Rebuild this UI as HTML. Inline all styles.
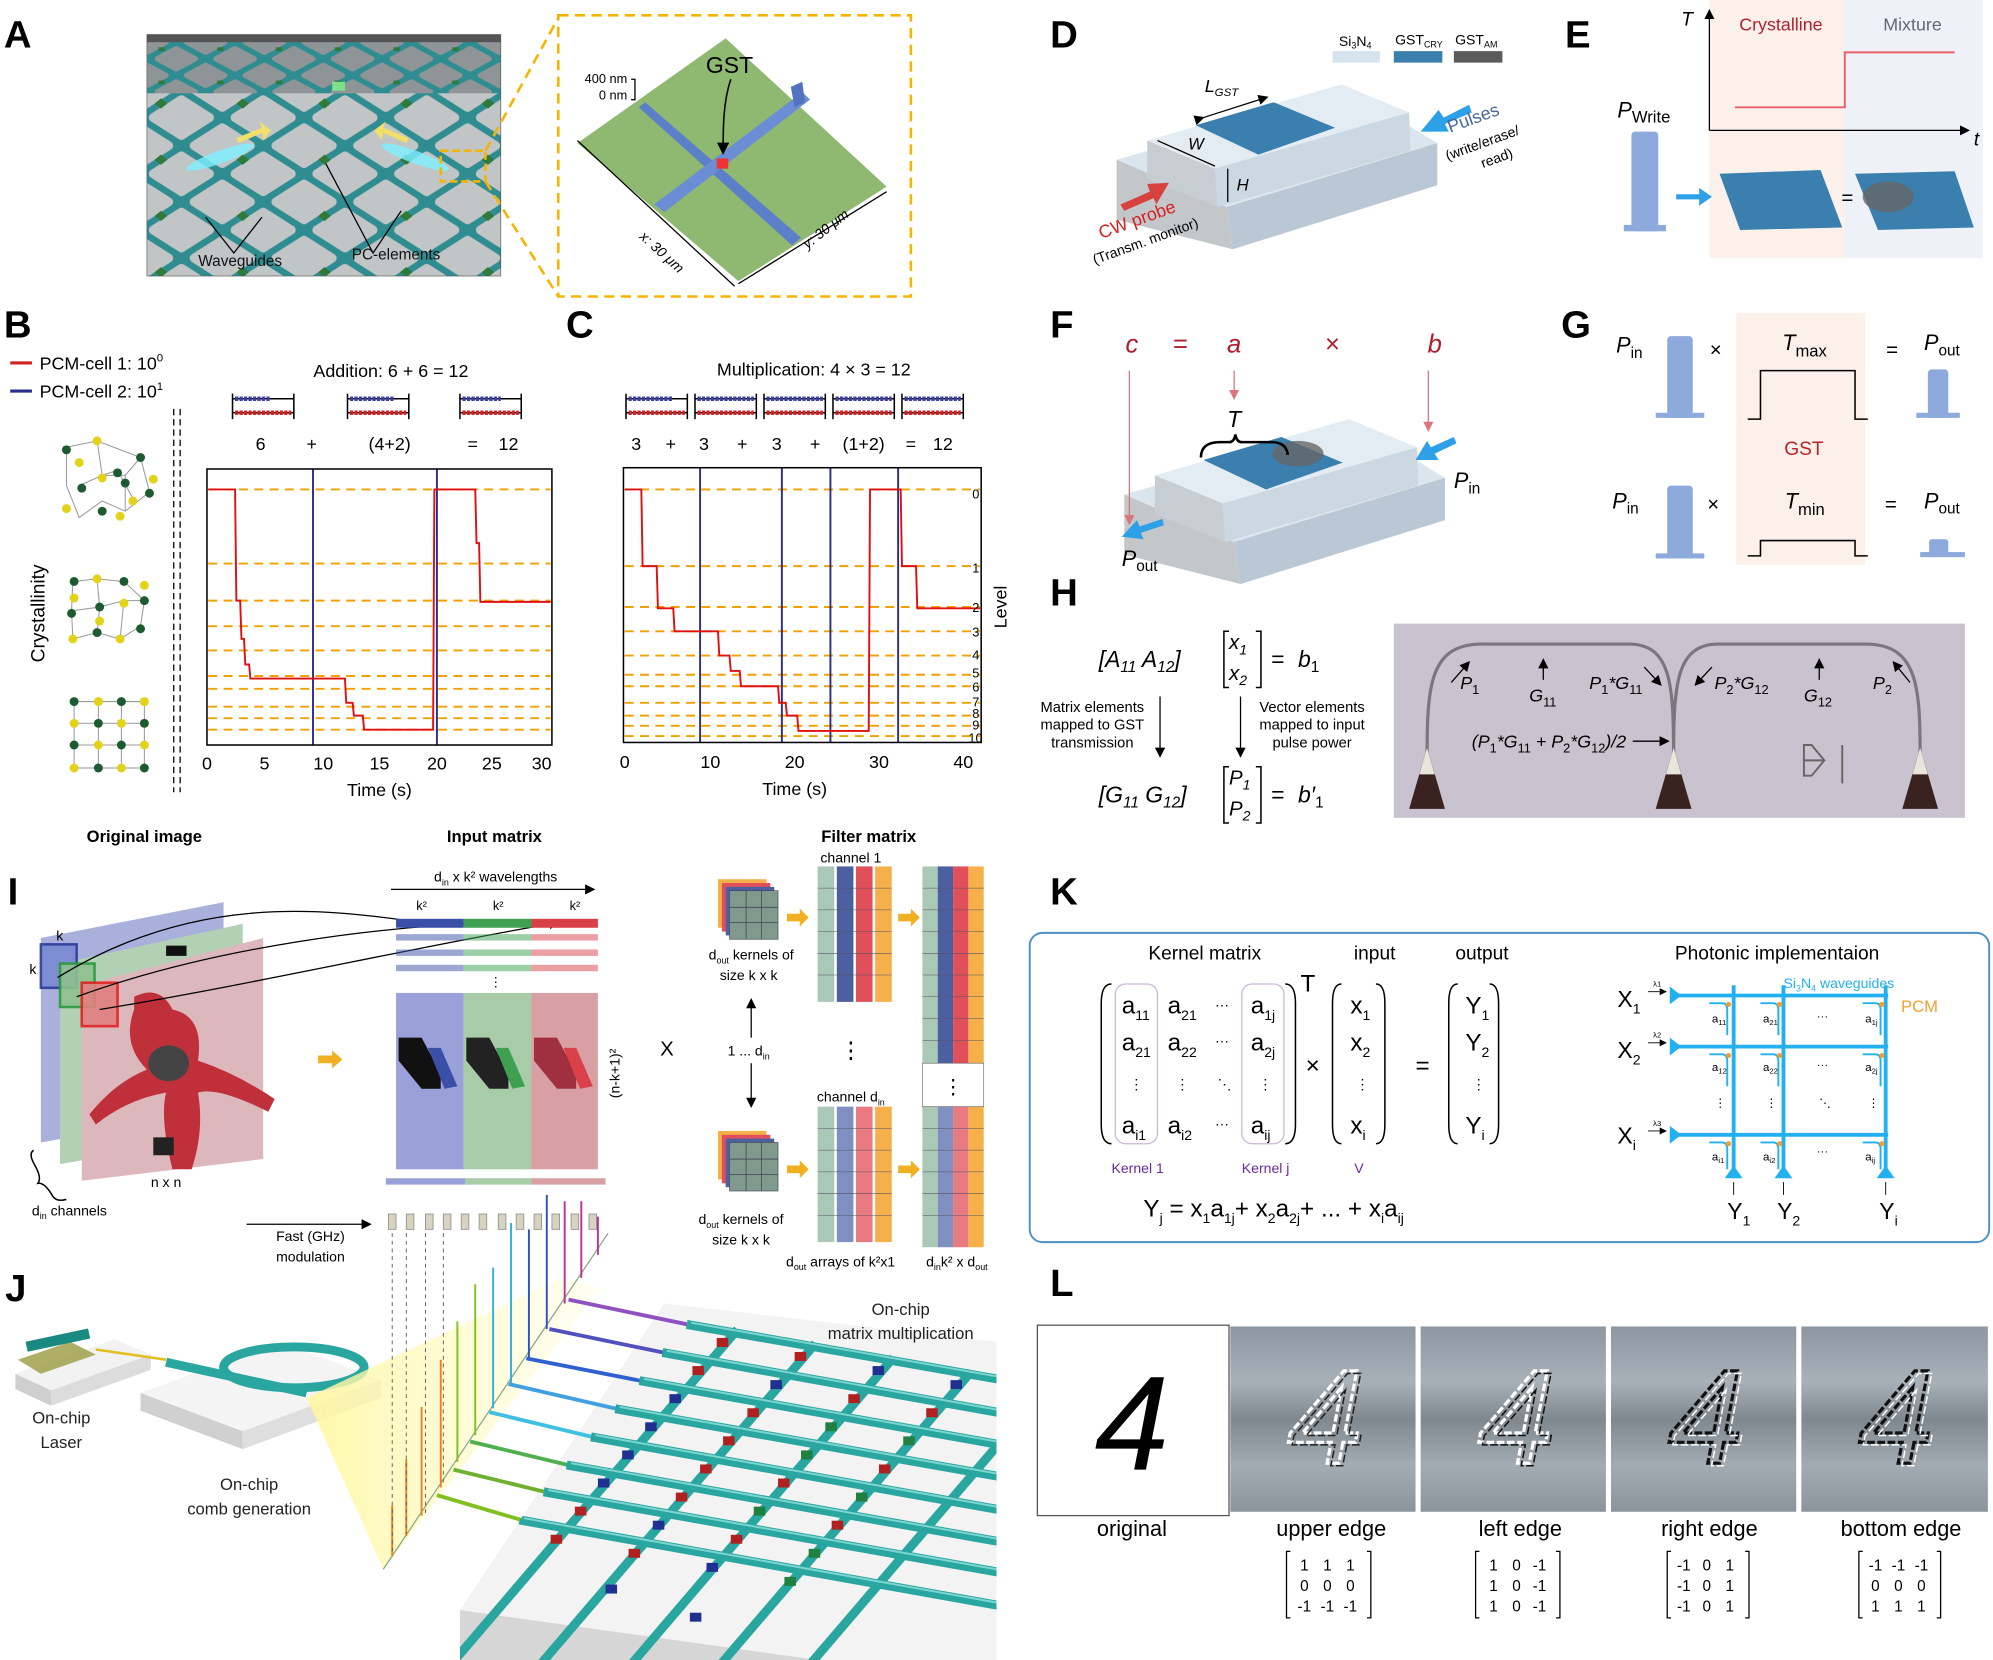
<!DOCTYPE html>
<html><head><meta charset="utf-8"><style>
html,body{margin:0;padding:0;background:#fff}
svg{display:block}
text{font-family:"Liberation Sans",sans-serif}
.lbl{font-weight:bold;font-size:30px}
.s{font-size:14px}
.m{font-size:12px}
.it{font-style:italic}
.ser{font-family:"Liberation Serif",serif}
</style></head><body>
<svg width="1993" height="1660" viewBox="0 0 1560 1299" preserveAspectRatio="none" xmlns="http://www.w3.org/2000/svg">
<defs>
<pattern id="cells" width="64" height="44" patternUnits="userSpaceOnUse" patternTransform="translate(110,70)">
<rect width="64" height="44" fill="#2f8d92"/>
<g fill="#c2c5c6" stroke="#c2c5c6" stroke-width="7" stroke-linejoin="round">
<polygon points="32,8 54,22 32,36 10,22"/>
<polygon points="0,-14 22,0 0,14 -22,0"/><polygon points="64,-14 86,0 64,14 42,0"/>
<polygon points="0,30 22,44 0,58 -22,44"/><polygon points="64,30 86,44 64,58 42,44"/>
</g>
<polygon points="16,7 21,11 16,15 11,11" fill="#2d7a3a"/>
</pattern>
<pattern id="cellsS" width="46" height="26" patternUnits="userSpaceOnUse" patternTransform="translate(115,33)">
<rect width="46" height="26" fill="#2f8d92"/>
<g fill="#8f9597" stroke="#8f9597" stroke-width="4" stroke-linejoin="round">
<polygon points="23,5 38,13 23,21 8,13"/>
<polygon points="0,-8 15,0 0,8 -15,0"/><polygon points="46,-8 61,0 46,8 31,0"/>
<polygon points="0,18 15,26 0,34 -15,26"/><polygon points="46,18 61,26 46,34 31,26"/>
</g>
<rect x="9" y="4" width="5" height="3" fill="#2d7a3a"/>
</pattern>
<clipPath id="cpA"><rect x="115" y="27" width="277" height="189"/></clipPath>
<clipPath id="cpJ"><polygon points="520,1020 780,1050 780,1299 360,1299 360,1260"/></clipPath>
<marker id="ar" markerWidth="8" markerHeight="8" refX="7" refY="4" orient="auto"><path d="M0,0 L8,4 L0,8 z" fill="#000"/></marker>
<marker id="arr" markerWidth="8" markerHeight="8" refX="7" refY="4" orient="auto"><path d="M0,0 L8,4 L0,8 z" fill="#d9757d"/></marker>
<linearGradient id="yel" x1="0" y1="0" x2="1" y2="0"><stop offset="0" stop-color="#fff7a0" stop-opacity="0.9"/><stop offset="1" stop-color="#fffbd0" stop-opacity="0.3"/></linearGradient>
<linearGradient id="gry" x1="0" y1="0" x2="0" y2="1"><stop offset="0" stop-color="#8e979f"/><stop offset="0.3" stop-color="#a8b0b8"/><stop offset="0.5" stop-color="#7f888f"/><stop offset="0.75" stop-color="#a3abb3"/><stop offset="1" stop-color="#8b949b"/></linearGradient>
</defs>

<!-- ============ A ============ -->
<text x="3" y="37" class="lbl">A</text>
<g clip-path="url(#cpA)">
<rect x="115" y="27" width="277" height="189" fill="url(#cells)"/>
<rect x="115" y="27" width="277" height="46" fill="url(#cellsS)"/>
<rect x="115" y="27" width="277" height="6" fill="#555"/>
<ellipse cx="172" cy="123" rx="28" ry="5" fill="#7df0ff" opacity="0.8" transform="rotate(-20 172 123)"/>
<ellipse cx="325" cy="123" rx="28" ry="5" fill="#7df0ff" opacity="0.8" transform="rotate(20 325 123)"/>
<polygon points="185,108 205,100 203,95 212,102 206,110 205,104 187,112" fill="#f0e06a"/>
<polygon points="320,108 300,100 302,95 293,102 299,110 300,104 318,112" fill="#f0e06a"/>
<rect x="260" y="64" width="10" height="7" fill="#7fe08a"/>
</g>
<rect x="115" y="27" width="277" height="189" fill="none" stroke="#555" stroke-width="0.5"/>
<polyline points="161,170 183,198 205,170" fill="none" stroke="#000" stroke-width="1"/>
<polyline points="255,128 292,198 314,165" fill="none" stroke="#000" stroke-width="1"/>
<text x="188" y="208" class="m" text-anchor="middle" fill="#111">Waveguides</text>
<text x="310" y="203" class="m" text-anchor="middle" fill="#111">PC-elements</text>
<rect x="345" y="118" width="35" height="24" fill="none" stroke="#f5b400" stroke-width="2" stroke-dasharray="6,3"/>
<line x1="380" y1="118" x2="437" y2="14" stroke="#f5b400" stroke-width="2" stroke-dasharray="8,5"/>
<line x1="380" y1="142" x2="437" y2="232" stroke="#f5b400" stroke-width="2" stroke-dasharray="8,5"/>
<rect x="437" y="12" width="276" height="220" fill="none" stroke="#f5b400" stroke-width="2" stroke-dasharray="8,5"/>
<polygon points="568,30 694,146 578,220 452,112" fill="#8fb871"/>
<polygon points="500,84 505,80 627,186 620,192" fill="#5b7fc9"/>
<polygon points="512,160 628,72 634,78 520,166" fill="#6a8dd6"/>
<polygon points="619,68 628,64 630,80 622,84" fill="#5274c0"/>
<rect x="561" y="124" width="9" height="8" fill="#e33"/>
<path d="M572,62 C566,80 566,100 566,120" fill="none" stroke="#000" stroke-width="1.2" marker-end="url(#ar)"/>
<text x="571" y="57" font-size="18" text-anchor="middle">GST</text>
<text x="491" y="65" font-size="10" text-anchor="end">400 nm</text>
<text x="491" y="78" font-size="10" text-anchor="end">0 nm</text>
<path d="M494,62 l3,0 l0,16 l-3,0" fill="none" stroke="#000"/>
<line x1="452" y1="110" x2="575" y2="224" stroke="#000" stroke-width="1"/>
<line x1="578" y1="222" x2="694" y2="150" stroke="#000" stroke-width="1"/>
<text x="500" y="186" font-size="11" class="it" transform="rotate(42 500 186)">x: 30 μm</text>
<text x="632" y="195" font-size="11" class="it" transform="rotate(-38 632 195)">y: 30 μm</text>

<!-- ============ B ============ -->
<text x="3" y="264" class="lbl">B</text>
<line x1="8" y1="284" x2="25" y2="284" stroke="#d42020" stroke-width="2.5"/>
<text x="31" y="289" font-size="14">PCM-cell 1: 10<tspan dy="-6" font-size="9">0</tspan></text>
<line x1="8" y1="306" x2="25" y2="306" stroke="#2a2d8c" stroke-width="2.5"/>
<text x="31" y="311" font-size="14">PCM-cell 2: 10<tspan dy="-6" font-size="9">1</tspan></text>
<line x1="136" y1="320" x2="136" y2="620" stroke="#000" stroke-dasharray="5,3"/>
<line x1="141" y1="320" x2="141" y2="620" stroke="#000" stroke-dasharray="5,3"/>
<text x="35" y="480" font-size="15" text-anchor="middle" transform="rotate(-90 35 480)">Crystallinity</text>
<g stroke="#999" stroke-width="0.8" fill="none">
<path d="M52,350 L76,345 L110,358 L117,385 L98,400 L80,392 L62,405 L52,380 Z M76,345 L80,372 L62,380 M80,372 L98,372 L110,358 M98,372 L98,400 M80,372 L92,368 L104,390"/>
<path d="M57,455 L76,453 L97,455 L113,470 L110,490 L94,500 L76,495 L57,500 L56,478 Z M76,453 L78,475 L56,478 M78,475 L97,470 L113,470 M78,475 L76,495 M97,470 L94,500"/>
<path d="M58,549 H113 M58,566 H113 M58,583 H113 M58,601 H113 M58,549 V601 M77,549 V601 M95,549 V601 M113,549 V601"/>
</g>
<g fill="#1c5b2f">
<circle cx="52" cy="352" r="3.5"/><circle cx="110" cy="358" r="3.5"/><circle cx="117" cy="386" r="3.5"/><circle cx="92" cy="370" r="3.5"/><circle cx="64" cy="382" r="3.5"/><circle cx="80" cy="400" r="3.5"/><circle cx="98" cy="378" r="3.5"/>
<circle cx="58" cy="455" r="3.5"/><circle cx="97" cy="455" r="3.5"/><circle cx="78" cy="475" r="3.5"/><circle cx="113" cy="470" r="3.5"/><circle cx="56" cy="480" r="3.5"/><circle cx="76" cy="495" r="3.5"/><circle cx="110" cy="492" r="3.5"/>
<circle cx="58" cy="549" r="3.5"/><circle cx="95" cy="549" r="3.5"/><circle cx="77" cy="566" r="3.5"/><circle cx="113" cy="566" r="3.5"/><circle cx="58" cy="583" r="3.5"/><circle cx="95" cy="583" r="3.5"/><circle cx="77" cy="601" r="3.5"/><circle cx="113" cy="601" r="3.5"/>
</g>
<g fill="#e2d21a">
<circle cx="76" cy="345" r="3.5"/><circle cx="62" cy="362" r="3.5"/><circle cx="80" cy="374" r="3.5"/><circle cx="104" cy="392" r="3.5"/><circle cx="52" cy="398" r="3.5"/><circle cx="94" cy="404" r="3.5"/><circle cx="120" cy="375" r="3.5"/>
<circle cx="76" cy="453" r="3.5"/><circle cx="113" cy="458" r="3.5"/><circle cx="58" cy="468" r="3.5"/><circle cx="97" cy="472" r="3.5"/><circle cx="78" cy="486" r="3.5"/><circle cx="57" cy="500" r="3.5"/><circle cx="94" cy="500" r="3.5"/>
<circle cx="77" cy="549" r="3.5"/><circle cx="113" cy="549" r="3.5"/><circle cx="58" cy="566" r="3.5"/><circle cx="95" cy="566" r="3.5"/><circle cx="77" cy="583" r="3.5"/><circle cx="113" cy="583" r="3.5"/><circle cx="58" cy="601" r="3.5"/><circle cx="95" cy="601" r="3.5"/>
</g>
<text x="306" y="295" font-size="14" text-anchor="middle">Addition: 6 + 6 = 12</text>
<g stroke="#000" stroke-width="1.2" fill="none">
<path d="M182,308 V328 M230,308 V328 M182,312 H230 M182,323 H230"/>
<path d="M272,308 V328 M320,308 V328 M272,312 H320 M272,323 H320"/>
<path d="M360,308 V328 M408,308 V328 M360,312 H408 M360,323 H408"/>
<path d="M490,308 V328 M538,308 V328 M490,312 H538 M490,323 H538"/>
<path d="M544,308 V328 M592,308 V328 M544,312 H592 M544,323 H592"/>
<path d="M598,308 V328 M646,308 V328 M598,312 H646 M598,323 H646"/>
<path d="M652,308 V328 M700,308 V328 M652,312 H700 M652,323 H700"/>
<path d="M706,308 V328 M754,308 V328 M706,312 H754 M706,323 H754"/>
</g>
<g stroke-width="3.5" stroke-dasharray="2.5,1">
<line x1="184" y1="312" x2="212" y2="312" stroke="#3a3fa0"/><line x1="184" y1="323" x2="228" y2="323" stroke="#d42020"/>
<line x1="274" y1="312" x2="308" y2="312" stroke="#3a3fa0"/><line x1="274" y1="323" x2="318" y2="323" stroke="#d42020"/>
<line x1="362" y1="312" x2="392" y2="312" stroke="#3a3fa0"/><line x1="362" y1="323" x2="406" y2="323" stroke="#d42020"/>
<line x1="492" y1="312" x2="526" y2="312" stroke="#3a3fa0"/><line x1="492" y1="323" x2="536" y2="323" stroke="#d42020"/>
<line x1="546" y1="312" x2="590" y2="312" stroke="#3a3fa0"/><line x1="546" y1="323" x2="590" y2="323" stroke="#d42020"/>
<line x1="600" y1="312" x2="644" y2="312" stroke="#3a3fa0"/><line x1="600" y1="323" x2="644" y2="323" stroke="#d42020"/>
<line x1="654" y1="312" x2="698" y2="312" stroke="#3a3fa0"/><line x1="654" y1="323" x2="698" y2="323" stroke="#d42020"/>
<line x1="708" y1="312" x2="752" y2="312" stroke="#3a3fa0"/><line x1="708" y1="323" x2="752" y2="323" stroke="#d42020"/>
</g>
<g font-size="14" text-anchor="middle">
<text x="204" y="352">6</text><text x="244" y="352">+</text><text x="305" y="352">(4+2)</text><text x="370" y="352">=</text><text x="398" y="352">12</text>
<text x="498" y="352">3</text><text x="525" y="352">+</text><text x="551" y="352">3</text><text x="581" y="352">+</text><text x="608" y="352">3</text><text x="638" y="352">+</text><text x="676" y="352">(1+2)</text><text x="713" y="352">=</text><text x="738" y="352">12</text>
</g>
<g stroke="#f0a000" stroke-width="1.5" stroke-dasharray="7,5">
<line x1="163" y1="383" x2="431" y2="383"/><line x1="163" y1="441" x2="431" y2="441"/><line x1="163" y1="470" x2="431" y2="470"/><line x1="163" y1="490" x2="431" y2="490"/><line x1="163" y1="509" x2="431" y2="509"/><line x1="163" y1="529" x2="431" y2="529"/><line x1="163" y1="539" x2="431" y2="539"/><line x1="163" y1="553" x2="431" y2="553"/><line x1="163" y1="562" x2="431" y2="562"/><line x1="163" y1="571" x2="431" y2="571"/>
</g>
<line x1="245" y1="367" x2="245" y2="583" stroke="#2a2d8c" stroke-width="1.5"/>
<line x1="342" y1="367" x2="342" y2="583" stroke="#2a2d8c" stroke-width="1.5"/>
<polyline points="163,383 184,383 185,470 188,470 189,500 191,500 192,520 195,520 196,531 270,531 271,550 276,550 277,560 284,560 285,571 339,571 340,383 372,383 373,425 375,425 376,471 431,471" fill="none" stroke="#e01010" stroke-width="1.5"/>
<rect x="162" y="367" width="270" height="216" fill="none" stroke="#000" stroke-width="1.2"/>
<g font-size="14" text-anchor="middle">
<text x="162" y="602">0</text><text x="207" y="602">5</text><text x="253" y="602">10</text><text x="297" y="602">15</text><text x="342" y="602">20</text><text x="385" y="602">25</text><text x="424" y="602">30</text>
<text x="297" y="623">Time (s)</text>
</g>
<!-- C -->
<text x="443" y="264" class="lbl">C</text>
<text x="637" y="294" font-size="14" text-anchor="middle">Multiplication: 4 × 3 = 12</text>
<g stroke="#f0a000" stroke-width="1.5" stroke-dasharray="7,5">
<line x1="489" y1="383" x2="767" y2="383"/><line x1="489" y1="443" x2="767" y2="443"/><line x1="489" y1="475" x2="767" y2="475"/><line x1="489" y1="494" x2="767" y2="494"/><line x1="489" y1="513" x2="767" y2="513"/><line x1="489" y1="528" x2="767" y2="528"/><line x1="489" y1="537" x2="767" y2="537"/><line x1="489" y1="550" x2="767" y2="550"/><line x1="489" y1="560" x2="767" y2="560"/><line x1="489" y1="568" x2="767" y2="568"/><line x1="489" y1="576" x2="767" y2="576"/>
</g>
<g stroke="#2a2d8c" stroke-width="1.5"><line x1="548" y1="366" x2="548" y2="581"/><line x1="612" y1="366" x2="612" y2="581"/><line x1="650" y1="366" x2="650" y2="581"/><line x1="703" y1="366" x2="703" y2="581"/></g>
<polyline points="489,383 502,383 503,443 514,443 515,476 527,476 528,494 562,494 563,513 571,513 572,525 579,525 580,537 609,537 610,550 615,550 616,560 624,560 625,572 680,572 681,383 705,383 706,443 717,443 718,476 767,476" fill="none" stroke="#e01010" stroke-width="1.5"/>
<rect x="488" y="366" width="280" height="215" fill="none" stroke="#000" stroke-width="1.2"/>
<g font-size="10">
<text x="761" y="390">0</text><text x="761" y="448">1</text><text x="761" y="479">2</text><text x="761" y="498">3</text><text x="761" y="516">4</text><text x="761" y="530">5</text><text x="761" y="541">6</text><text x="761" y="553">7</text><text x="761" y="562">8</text><text x="761" y="571">9</text><text x="758" y="581">10</text>
</g>
<text x="788" y="475" font-size="14" text-anchor="middle" transform="rotate(-90 788 475)">Level</text>
<g font-size="14" text-anchor="middle">
<text x="489" y="601">0</text><text x="556" y="601">10</text><text x="622" y="601">20</text><text x="688" y="601">30</text><text x="754" y="601">40</text>
<text x="622" y="622">Time (s)</text>
</g>

<!-- ============ D ============ -->
<text x="822" y="37" class="lbl">D</text>
<rect x="1043" y="40" width="37" height="9" fill="#d5e3ee"/><rect x="1091" y="40" width="38" height="9" fill="#3a7fad"/><rect x="1138" y="40" width="38" height="9" fill="#5b5b5b"/>
<text x="1048" y="36" font-size="11">Si<tspan font-size="7" dy="2">3</tspan><tspan dy="-2">N</tspan><tspan font-size="7" dy="2">4</tspan></text>
<text x="1092" y="35" font-size="11">GST<tspan font-size="7" dy="2">CRY</tspan></text>
<text x="1139" y="35" font-size="11">GST<tspan font-size="7" dy="2">AM</tspan></text>
<polygon points="874,125 1060,72 1125,112 960,162" fill="#dbe5ee"/>
<polygon points="874,125 960,162 965,195 874,172" fill="#c4c7ca"/>
<polygon points="960,162 1125,112 1125,145 965,195" fill="#b9c8d4"/>
<polygon points="898,110 1050,66 1103,88 951,132" fill="#e3ecf3"/>
<polygon points="898,110 951,132 953,162 898,140" fill="#c6cdd3"/>
<polygon points="951,132 1103,88 1104,118 953,162" fill="#cbd8e2"/>
<polygon points="936,98 997,80 1045,100 985,121" fill="#3a7fad"/>
<line x1="942" y1="92" x2="992" y2="76" stroke="#000" marker-end="url(#ar)" marker-start="url(#ar)"/>
<text x="943" y="72" font-size="14" class="it">L<tspan font-size="9" dy="3">GST</tspan></text>
<line x1="906" y1="110" x2="951" y2="130" stroke="#000"/>
<text x="930" y="117" font-size="13" class="it">W</text>
<line x1="961" y1="132" x2="961" y2="158" stroke="#000"/>
<text x="968" y="149" font-size="13" class="it">H</text>
<polygon points="1150,82 1130,92 1126,86 1112,103 1134,103 1131,97 1152,88" fill="#2ea0e8"/>
<polygon points="877,160 900,150 898,144 915,143 905,160 903,155 880,165" fill="#d94040"/>
<g fill="#46699a" font-size="14" transform="rotate(-20 1140 100)"><text x="1134" y="102">Pulses</text></g>
<g font-size="11" transform="rotate(-20 1135 125)"><text x="1133" y="125">(write/erase/</text><text x="1157" y="140">read)</text></g>
<text x="862" y="187" font-size="14" fill="#d42020" transform="rotate(-20 862 187)">CW probe</text>
<text x="857" y="207" font-size="11" transform="rotate(-20 857 207)">(Transm. monitor)</text>

<!-- ============ E ============ -->
<rect x="1338" y="0" width="106" height="202" fill="#fbf1ea"/>
<rect x="1444" y="0" width="108" height="202" fill="#eef1f7"/>
<text x="1225" y="37" class="lbl">E</text>
<line x1="1338" y1="102" x2="1338" y2="8" stroke="#000" marker-end="url(#ar)"/>
<line x1="1338" y1="102" x2="1541" y2="102" stroke="#000" marker-end="url(#ar)"/>
<text x="1316" y="20" font-size="15" class="it">T</text>
<text x="1545" y="114" font-size="15" class="it">t</text>
<text x="1394" y="24" font-size="14" fill="#b22030" text-anchor="middle">Crystalline</text>
<text x="1497" y="24" font-size="14" fill="#667" text-anchor="middle">Mixture</text>
<polyline points="1358,84 1444,84 1444,41 1530,41" fill="none" stroke="#e8606a" stroke-width="1.5"/>
<text x="1266" y="92" font-size="17" class="it">P<tspan font-size="13" font-style="normal" dy="4">Write</tspan></text>
<rect x="1277" y="103" width="21" height="78" rx="3" fill="#8ea9dc"/>
<rect x="1271" y="176" width="33" height="5" fill="#8ea9dc"/>
<polygon points="1312,152 1330,152 1330,147 1340,154 1330,161 1330,156 1312,156" fill="#2ea0e8"/>
<polygon points="1346,136 1425,133 1442,178 1362,180" fill="#3a7fad"/>
<text x="1446" y="160" font-size="16" text-anchor="middle">=</text>
<polygon points="1452,136 1530,134 1545,178 1470,180" fill="#3a7fad"/>
<ellipse cx="1478" cy="154" rx="20" ry="12" fill="#666" opacity="0.8"/>

<!-- ============ F ============ -->
<text x="822" y="264" class="lbl">F</text>
<g font-size="20" fill="#b01c2c" class="it" text-anchor="middle">
<text x="886" y="276">c</text><text x="924" y="276" font-style="normal">=</text><text x="966" y="276">a</text><text x="1043" y="276" font-style="normal">×</text><text x="1123" y="276">b</text></g>
<g transform="translate(6,262)">
<polygon points="874,125 1060,72 1125,112 960,162" fill="#dbe5ee"/>
<polygon points="874,125 960,162 965,195 874,172" fill="#c4c7ca"/>
<polygon points="960,162 1125,112 1125,145 965,195" fill="#b9c8d4"/>
<polygon points="898,110 1050,66 1103,88 951,132" fill="#e3ecf3"/>
<polygon points="898,110 951,132 953,162 898,140" fill="#c6cdd3"/>
<polygon points="951,132 1103,88 1104,118 953,162" fill="#cbd8e2"/>
<polygon points="936,98 997,80 1045,100 985,121" fill="#3a7fad"/>
<ellipse cx="1010" cy="93" rx="20" ry="10" fill="#666" opacity="0.8"/>
</g>
<line x1="884" y1="290" x2="884" y2="410" stroke="#d9757d" marker-end="url(#arr)"/>
<line x1="966" y1="290" x2="966" y2="312" stroke="#d9757d" marker-end="url(#arr)"/>
<line x1="1118" y1="290" x2="1118" y2="337" stroke="#d9757d" marker-end="url(#arr)"/>
<text x="966" y="334" font-size="18" class="it" text-anchor="middle">T</text>
<path d="M940,358 Q940,346 955,346 L962,346 Q966,346 967,340 Q968,346 972,346 L995,346 Q1007,346 1008,356" fill="none" stroke="#000" stroke-width="2"/>
<polygon points="1138,342 1120,350 1117,345 1108,360 1126,360 1123,355 1140,347" fill="#2ea0e8"/>
<polygon points="910,406 892,412 890,407 878,420 895,422 893,417 911,411" fill="#2ea0e8"/>
<text x="1138" y="382" font-size="17" class="it">P<tspan font-size="12" font-style="normal" dy="4">in</tspan></text>
<text x="878" y="443" font-size="17" class="it">P<tspan font-size="12" font-style="normal" dy="4">out</tspan></text>

<!-- ============ G ============ -->
<text x="1222" y="264" class="lbl">G</text>
<rect x="1359" y="245" width="101" height="197" fill="#fbf1ea"/>
<g font-size="17" class="it">
<text x="1265" y="276">P<tspan font-size="12" font-style="normal" dy="4">in</tspan></text>
<text x="1395" y="274">T<tspan font-size="13" font-style="normal" dy="5">max</tspan></text>
<text x="1506" y="274">P<tspan font-size="12" font-style="normal" dy="4">out</tspan></text>
<text x="1262" y="398">P<tspan font-size="12" font-style="normal" dy="4">in</tspan></text>
<text x="1397" y="398">T<tspan font-size="13" font-style="normal" dy="5">min</tspan></text>
<text x="1506" y="398">P<tspan font-size="12" font-style="normal" dy="4">out</tspan></text>
</g>
<g font-size="16" text-anchor="middle"><text x="1343" y="279">×</text><text x="1481" y="279">=</text><text x="1341" y="400">×</text><text x="1480" y="400">=</text></g>
<text x="1412" y="356" font-size="15" fill="#c0202a" text-anchor="middle">GST</text>
<g fill="#8ea9dc">
<rect x="1305" y="263" width="20" height="64" rx="3"/><rect x="1296" y="323" width="38" height="4"/>
<rect x="1509" y="289" width="16" height="38" rx="3"/><rect x="1500" y="323" width="34" height="4"/>
<rect x="1305" y="380" width="20" height="57" rx="3"/><rect x="1296" y="433" width="38" height="4"/>
<rect x="1510" y="422" width="15" height="12" rx="2"/><rect x="1503" y="432" width="35" height="4"/>
</g>
<polyline points="1368,328 1378,328 1378,290 1452,290 1452,328 1462,328" fill="none" stroke="#000" stroke-width="1.2"/>
<polyline points="1368,435 1378,435 1378,423 1452,423 1452,435 1462,435" fill="none" stroke="#000" stroke-width="1.2"/>

<!-- ============ H ============ -->
<text x="822" y="474" class="lbl">H</text>
<g class="ser it" font-size="18">
<text x="860" y="522">[A<tspan font-size="12" dy="4">11</tspan><tspan dy="-4">   A</tspan><tspan font-size="12" dy="4">12</tspan><tspan dy="-4">]</tspan></text>
<text x="962" y="508" font-size="16">x<tspan font-size="11" dy="4">1</tspan></text>
<text x="962" y="532" font-size="16">x<tspan font-size="11" dy="4">2</tspan></text>
<text x="995" y="522" font-style="normal">= </text><text x="1016" y="522">b<tspan font-size="12" dy="4" font-style="normal">1</tspan></text>
<text x="860" y="628">[G<tspan font-size="12" dy="4">11</tspan><tspan dy="-4">   G</tspan><tspan font-size="12" dy="4">12</tspan><tspan dy="-4">]</tspan></text>
<text x="962" y="614" font-size="16">P<tspan font-size="11" dy="4">1</tspan></text>
<text x="962" y="638" font-size="16">P<tspan font-size="11" dy="4">2</tspan></text>
<text x="995" y="628" font-style="normal">= </text><text x="1016" y="628">b′<tspan font-size="12" dy="4" font-style="normal">1</tspan></text>
</g>
<path d="M962,494 h-4 v44 h4 M983,494 h4 v44 h-4 M962,600 h-4 v44 h4 M983,600 h4 v44 h-4" fill="none" stroke="#000" stroke-width="1.2"/>
<g font-size="11.5" text-anchor="middle">
<text x="855" y="557">Matrix elements</text><text x="855" y="571">mapped to GST</text><text x="855" y="585">transmission</text>
<text x="1027" y="557">Vector elements</text><text x="1027" y="571">mapped to input</text><text x="1027" y="585">pulse power</text>
</g>
<line x1="908" y1="545" x2="908" y2="592" stroke="#000" marker-end="url(#ar)"/>
<line x1="971" y1="545" x2="971" y2="592" stroke="#000" marker-end="url(#ar)"/>
<rect x="1091" y="488" width="447" height="152" fill="#c8c3cf"/>
<path d="M1117,600 C1117,540 1117,504 1160,504 L1275,504 C1310,504 1310,540 1310,600 C1310,540 1310,504 1345,504 L1460,504 C1503,504 1503,540 1503,600" fill="none" stroke="#7a767e" stroke-width="2.5"/>
<g fill="#3a2220"><polygon points="1117,585 1103,633 1131,633"/><polygon points="1310,585 1296,633 1324,633"/><polygon points="1503,585 1489,633 1517,633"/></g>
<g fill="#e8e6da"><polygon points="1117,585 1111,606 1123,606"/><polygon points="1310,585 1304,606 1316,606"/><polygon points="1503,585 1497,606 1509,606"/></g>
<path d="M1412,583 h6 l10,12 l-10,12 h-6 z M1412,595 h16 M1442,583 v30" fill="none" stroke="#666" stroke-width="1.5"/>
<g font-size="14" class="it">
<text x="1143" y="539">P<tspan font-size="10" font-style="normal" dy="4">1</tspan></text>
<text x="1197" y="549">G<tspan font-size="10" font-style="normal" dy="4">11</tspan></text>
<text x="1244" y="539">P<tspan font-size="10" font-style="normal" dy="4">1</tspan><tspan dy="-4">*G</tspan><tspan font-size="10" font-style="normal" dy="4">11</tspan></text>
<text x="1342" y="539">P<tspan font-size="10" font-style="normal" dy="4">2</tspan><tspan dy="-4">*G</tspan><tspan font-size="10" font-style="normal" dy="4">12</tspan></text>
<text x="1412" y="549">G<tspan font-size="10" font-style="normal" dy="4">12</tspan></text>
<text x="1466" y="539">P<tspan font-size="10" font-style="normal" dy="4">2</tspan></text>
<text x="1152" y="585">(P<tspan font-size="10" font-style="normal" dy="4">1</tspan><tspan dy="-4">*G</tspan><tspan font-size="10" font-style="normal" dy="4">11</tspan><tspan dy="-4"> + P</tspan><tspan font-size="10" font-style="normal" dy="4">2</tspan><tspan dy="-4">*G</tspan><tspan font-size="10" font-style="normal" dy="4">12</tspan><tspan dy="-4">)/2</tspan></text>
</g>
<g stroke="#000" stroke-width="1"><line x1="1136" y1="534" x2="1150" y2="518" marker-end="url(#ar)"/><line x1="1208" y1="532" x2="1208" y2="516" marker-end="url(#ar)"/><line x1="1287" y1="522" x2="1300" y2="536" marker-end="url(#ar)"/><line x1="1340" y1="522" x2="1327" y2="536" marker-end="url(#ar)"/><line x1="1424" y1="532" x2="1424" y2="516" marker-end="url(#ar)"/><line x1="1495" y1="534" x2="1482" y2="518" marker-end="url(#ar)"/><line x1="1278" y1="580" x2="1306" y2="580" marker-end="url(#ar)"/></g>

<!-- ============ I ============ -->
<text x="6" y="708" class="lbl">I</text>
<g font-size="13" font-weight="bold" text-anchor="middle"><text x="113" y="659">Original image</text><text x="387" y="659">Input matrix</text><text x="680" y="659">Filter matrix</text></g>
<polygon points="32,734 175,706 175,868 32,894" fill="#aab0dc"/>
<polygon points="47,754 190,723 190,886 47,911" fill="#b2d0b4"/>
<polygon points="64,771 206,734 206,907 64,924" fill="#dcb8bc"/>
<path d="M105,780 q20,-10 30,10 q25,5 20,40 q30,10 60,30 l-5,10 q-40,-20 -55,-15 q5,30 -5,60 l-15,0 q-10,-40 -5,-60 q-30,5 -55,25 l-5,-8 q20,-25 45,-35 q-20,-20 -10,-47z" fill="#c0303a"/>
<ellipse cx="132" cy="832" rx="16" ry="14" fill="#444"/>
<rect x="130" y="740" width="16" height="8" fill="#111"/>
<rect x="120" y="890" width="16" height="14" fill="#222"/>
<rect x="32" y="739" width="28" height="34" fill="#7a8ad0" stroke="#2a3a9a" stroke-width="2" opacity="0.9"/>
<rect x="47" y="754" width="27" height="34" fill="#8fc090" stroke="#2a9a3a" stroke-width="2" opacity="0.9"/>
<rect x="64" y="769" width="28" height="34" fill="#e08080" stroke="#e02020" stroke-width="2" opacity="0.9"/>
<text x="44" y="736" font-size="11">k</text><text x="23" y="762" font-size="11">k</text>
<path d="M45,765 C150,700 250,710 330,722 M60,780 C170,740 300,725 385,722 M78,790 C200,770 330,740 437,722" fill="none" stroke="#000" stroke-width="1" marker-end="url(#ar)"/>
<path d="M37,900 q-5,0 -5,10 q0,12 -5,14 q5,2 5,14 q0,6 8,8" fill="none" stroke="#000" stroke-width="1.2" transform="rotate(-30 32 920)"/>
<text x="25" y="951" font-size="11">d<tspan font-size="7" dy="3">in</tspan><tspan dy="-3"> channels</tspan></text>
<text x="130" y="929" font-size="11" text-anchor="middle">n x n</text>
<text x="388" y="690" font-size="11" text-anchor="middle">d<tspan font-size="7" dy="3">in</tspan><tspan dy="-3"> x k² wavelengths</tspan></text>
<line x1="306" y1="696" x2="465" y2="696" stroke="#000" marker-end="url(#ar)"/>
<g font-size="10" text-anchor="middle"><text x="330" y="712">k²</text><text x="390" y="712">k²</text><text x="450" y="712">k²</text></g>
<rect x="310" y="719" width="53" height="7" fill="#3a4fa8"/><rect x="363" y="719" width="53" height="7" fill="#3ea050"/><rect x="416" y="719" width="52" height="7" fill="#d9404a"/>
<g opacity="0.5"><rect x="310" y="731" width="53" height="5" fill="#3a4fa8"/><rect x="363" y="731" width="53" height="5" fill="#3ea050"/><rect x="416" y="731" width="52" height="5" fill="#d9404a"/>
<rect x="310" y="743" width="53" height="5" fill="#3a4fa8"/><rect x="363" y="743" width="53" height="5" fill="#3ea050"/><rect x="416" y="743" width="52" height="5" fill="#d9404a"/>
<rect x="310" y="755" width="53" height="5" fill="#3a4fa8"/><rect x="363" y="755" width="53" height="5" fill="#3ea050"/><rect x="416" y="755" width="52" height="5" fill="#d9404a"/></g>
<text x="388" y="772" font-size="10" text-anchor="middle">⋮</text>
<rect x="310" y="777" width="53" height="138" fill="#9aa0d8"/><rect x="363" y="777" width="53" height="138" fill="#a8cba8"/><rect x="416" y="777" width="52" height="138" fill="#d8a0a4"/>
<polygon points="312,812 330,812 345,840 345,852 330,852 312,830" fill="#111"/><polygon points="335,820 345,820 358,850 348,852" fill="#3a4fa8"/>
<polygon points="365,812 383,812 398,840 398,852 383,852 365,830" fill="#222"/><polygon points="388,820 398,820 411,850 401,852" fill="#3ea050"/>
<polygon points="418,812 436,812 451,840 451,852 436,852 418,830" fill="#a03040"/><polygon points="441,820 451,820 464,850 454,852" fill="#d9404a"/>
<rect x="302" y="922" width="62" height="5" fill="#9aa0d8"/><rect x="364" y="922" width="52" height="5" fill="#a8cba8"/><rect x="416" y="922" width="58" height="5" fill="#d8a0a4"/>
<text x="485" y="840" font-size="11" text-anchor="middle" transform="rotate(-90 485 840)">(n-k+1)²</text>
<polygon points="249,826 260,826 260,822 268,829 260,836 260,832 249,832" fill="#f0b020"/>
<text x="522" y="826" font-size="16" text-anchor="middle">X</text>
<g fill="#d8d2c0" stroke="#888" stroke-width="0.6">
<rect x="304" y="950" width="6" height="12"/><rect x="318" y="950" width="6" height="12"/><rect x="333" y="950" width="6" height="12"/><rect x="347" y="950" width="6" height="12"/><rect x="361" y="950" width="6" height="12"/><rect x="375" y="950" width="6" height="12"/><rect x="390" y="950" width="6" height="12"/><rect x="404" y="950" width="6" height="12"/><rect x="418" y="950" width="6" height="12"/><rect x="432" y="950" width="6" height="12"/><rect x="447" y="950" width="6" height="12"/><rect x="461" y="950" width="6" height="12"/></g>
<line x1="193" y1="958" x2="290" y2="958" stroke="#000" marker-end="url(#ar)"/>
<text x="243" y="971" font-size="11" text-anchor="middle">Fast (GHz)</text><text x="243" y="987" font-size="11" text-anchor="middle">modulation</text>
<rect x="562" y="688" width="38" height="38" fill="#f5b04c"/><rect x="565" y="691" width="38" height="38" fill="#e0505b"/><rect x="568" y="694" width="38" height="38" fill="#4c5fa0"/><rect x="571" y="697" width="38" height="38" fill="#7f9a8c" stroke="#445" stroke-width="0.5"/>
<path d="M571,710 h38 M571,722 h38 M584,697 v38 M596,697 v38" stroke="#445" stroke-width="0.6"/>
<rect x="562" y="885" width="38" height="38" fill="#f5b04c"/><rect x="565" y="888" width="38" height="38" fill="#e0505b"/><rect x="568" y="891" width="38" height="38" fill="#4c5fa0"/><rect x="571" y="894" width="38" height="38" fill="#7f9a8c" stroke="#445" stroke-width="0.5"/>
<path d="M571,907 h38 M571,919 h38 M584,894 v38 M596,894 v38" stroke="#445" stroke-width="0.6"/>
<g font-size="11" text-anchor="middle">
<text x="588" y="751">d<tspan font-size="7" dy="3">out</tspan><tspan dy="-3"> kernels of</tspan></text><text x="586" y="767">size k x k</text>
<text x="580" y="958">d<tspan font-size="7" dy="3">out</tspan><tspan dy="-3"> kernels of</tspan></text><text x="580" y="974">size k x k</text>
<text x="586" y="826">1 ... d<tspan font-size="7" dy="3">in</tspan></text>
<text x="666" y="675">channel 1</text><text x="666" y="862">channel d<tspan font-size="7" dy="3">in</tspan></text>
<text x="658" y="991">d<tspan font-size="7" dy="3">out</tspan><tspan dy="-3"> arrays of k²x1</tspan></text>
<text x="749" y="991">d<tspan font-size="7" dy="3">in</tspan><tspan dy="-3">k² x d</tspan><tspan font-size="7" dy="3">out</tspan></text>
</g>
<line x1="588" y1="812" x2="588" y2="782" stroke="#000" marker-end="url(#ar)"/><line x1="588" y1="832" x2="588" y2="866" stroke="#000" marker-end="url(#ar)"/>
<text x="666" y="828" font-size="18" text-anchor="middle">⋮</text>
<rect x="640" y="678" width="13" height="106" fill="#a9c8b5"/><rect x="655" y="678" width="13" height="106" fill="#4c5fa0"/><rect x="670" y="678" width="13" height="106" fill="#e0505b"/><rect x="685" y="678" width="13" height="106" fill="#f5b04c"/>
<g transform="translate(0,188)"><rect x="640" y="678" width="13" height="106" fill="#a9c8b5"/><rect x="655" y="678" width="13" height="106" fill="#7f8fc0"/><rect x="670" y="678" width="13" height="106" fill="#e87a82"/><rect x="685" y="678" width="13" height="106" fill="#f5b04c"/></g>
<rect x="722" y="678" width="12" height="154" fill="#a9c8b5"/><rect x="734" y="678" width="12" height="154" fill="#4c5fa0"/><rect x="746" y="678" width="12" height="154" fill="#e0505b"/><rect x="758" y="678" width="12" height="154" fill="#f5b04c"/>
<rect x="722" y="866" width="12" height="110" fill="#a9c8b5"/><rect x="734" y="866" width="12" height="110" fill="#7f8fc0"/><rect x="746" y="866" width="12" height="110" fill="#e87a82"/><rect x="758" y="866" width="12" height="110" fill="#f5b04c"/>
<rect x="722" y="832" width="48" height="34" fill="#fff" stroke="#666" stroke-width="0.5"/>
<text x="746" y="856" font-size="16" text-anchor="middle">⋮</text>
<polygon points="616,715 626,715 626,711 633,718 626,725 626,721 616,721" fill="#f0b020"/>
<polygon points="703,715 713,715 713,711 720,718 713,725 713,721 703,721" fill="#f0b020"/>
<polygon points="616,912 626,912 626,908 633,915 626,922 626,918 616,918" fill="#f0b020"/>
<polygon points="703,912 713,912 713,908 720,915 713,922 713,918 703,918" fill="#f0b020"/>
<g stroke="#556" stroke-width="0.4"><path d="M640,695 h58 M640,712 h58 M640,729 h58 M640,746 h58 M640,763 h58 M640,883 h58 M640,900 h58 M640,917 h58 M640,934 h58 M640,951 h58 M722,695 h48 M722,712 h48 M722,729 h48 M722,746 h48 M722,763 h48 M722,780 h48 M722,797 h48 M722,814 h48 M722,883 h48 M722,900 h48 M722,917 h48 M722,934 h48 M722,951 h48"/></g>

<!-- ============ J ============ -->
<text x="4" y="1018" class="lbl">J</text>
<polygon points="520,1020 780,1050 780,1299 360,1299 360,1260" fill="#f3f3f3"/>
<polygon points="360,1260 640,1299 360,1299" fill="#d6d6d6"/>
<polygon points="12,1075 90,1048 118,1060 40,1088" fill="#f2f2f2"/>
<polygon points="12,1075 40,1088 40,1100 12,1087" fill="#cfcfcf"/>
<polygon points="40,1088 118,1060 118,1072 40,1100" fill="#dcdcdc"/>
<polygon points="14,1064 55,1050 75,1060 32,1075" fill="#9a9a40" opacity="0.8"/>
<rect x="20" y="1050" width="50" height="8" fill="#1a8a80" transform="rotate(-12 20 1050)"/>
<line x1="75" y1="1056" x2="130" y2="1064" stroke="#e0c020" stroke-width="2"/>
<polygon points="110,1090 220,1050 298,1080 190,1120" fill="#f4f4f4"/>
<polygon points="110,1090 190,1120 190,1134 110,1104" fill="#d0d0d0"/>
<polygon points="190,1120 298,1080 298,1094 190,1134" fill="#dedede"/>
<ellipse cx="230" cy="1070" rx="55" ry="16" fill="none" stroke="#2aa6a0" stroke-width="7"/>
<line x1="130" y1="1066" x2="240" y2="1090" stroke="#2aa6a0" stroke-width="7"/>
<polygon points="240,1094 300,1228 470,1008 440,1000" fill="url(#yel)"/>
<line x1="300" y1="1228" x2="476" y2="965" stroke="#8a8" stroke-width="1"/>
<g stroke-width="1.5" fill="none">
<path d="M307,1218 l0,-40 M318,1202 l0,-60 M330,1186 l0,-85 M345,1164 l0,-100" stroke="#f08020"/>
<path d="M358,1144 l0,-110 M372,1123 l0,-118" stroke="#80c020"/>
<path d="M386,1102 l0,-110 M400,1082 l0,-125" stroke="#30b0e0"/>
<path d="M414,1062 l0,-100 M428,1040 l0,-105" stroke="#3050c0"/>
<path d="M442,1020 l0,-80 M455,1000 l0,-60 M468,982 l0,-30" stroke="#c03090"/>
</g>
<g stroke-width="3">
<line x1="445" y1="1017" x2="541" y2="1037" stroke="#9050c0"/>
<line x1="430" y1="1040" x2="522" y2="1059" stroke="#5050c0"/>
<line x1="412" y1="1063" x2="504" y2="1081" stroke="#3060d0"/>
<line x1="398" y1="1083" x2="485" y2="1103" stroke="#40a0e0"/>
<line x1="383" y1="1105" x2="466" y2="1125" stroke="#40c0e0"/>
<line x1="368" y1="1128" x2="447" y2="1147" stroke="#50b050"/>
<line x1="355" y1="1150" x2="429" y2="1168" stroke="#70b030"/>
<line x1="342" y1="1170" x2="410" y2="1190" stroke="#80c020"/>
</g>
<g clip-path="url(#cpJ)">
<g stroke="#2aa6a0" stroke-width="7" fill="none" stroke-linecap="square">
<path d="M541,1037 L780,1079 M522,1059 L780,1105 M504,1081 L780,1130 M485,1103 L780,1155 M466,1125 L780,1181 M447,1147 L780,1206 M429,1168 L780,1230 M410,1190 L780,1256"/>
<path d="M575,1043 L356,1299 M636,1054 L426,1299 M697,1065 L497,1299 M758,1076 L567,1299 M780,1132 L637,1299"/>
</g>
<g stroke="#7fd6d0" stroke-width="1.5" fill="none">
<path d="M541,1035 L780,1077 M522,1057 L780,1103 M504,1079 L780,1128 M485,1101 L780,1153 M466,1123 L780,1179 M447,1145 L780,1204 M429,1166 L780,1228 M410,1188 L780,1254"/>
</g>
<g>
<rect x="561" y="1047" width="9" height="7" fill="#b02020"/><rect x="622" y="1058" width="9" height="7" fill="#b02020"/><rect x="683" y="1069" width="9" height="7" fill="#203090"/><rect x="744" y="1080" width="9" height="7" fill="#203090"/>
<rect x="542" y="1069" width="9" height="7" fill="#b02020"/><rect x="603" y="1080" width="9" height="7" fill="#203090"/><rect x="664" y="1091" width="9" height="7" fill="#b02020"/><rect x="725" y="1102" width="9" height="7" fill="#b02020"/>
<rect x="524" y="1091" width="9" height="7" fill="#203090"/><rect x="585" y="1102" width="9" height="7" fill="#b02020"/><rect x="646" y="1113" width="9" height="7" fill="#208040"/><rect x="707" y="1124" width="9" height="7" fill="#208040"/>
<rect x="505" y="1113" width="9" height="7" fill="#203090"/><rect x="566" y="1124" width="9" height="7" fill="#b02020"/><rect x="627" y="1135" width="9" height="7" fill="#208040"/><rect x="688" y="1146" width="9" height="7" fill="#b02020"/>
<rect x="487" y="1135" width="9" height="7" fill="#203090"/><rect x="548" y="1146" width="9" height="7" fill="#b02020"/><rect x="609" y="1157" width="9" height="7" fill="#b02020"/><rect x="670" y="1168" width="9" height="7" fill="#208040"/>
<rect x="468" y="1157" width="9" height="7" fill="#203090"/><rect x="529" y="1168" width="9" height="7" fill="#b02020"/><rect x="590" y="1179" width="9" height="7" fill="#208040"/><rect x="651" y="1190" width="9" height="7" fill="#b02020"/>
<rect x="450" y="1179" width="9" height="7" fill="#b02020"/><rect x="511" y="1190" width="9" height="7" fill="#203090"/><rect x="572" y="1201" width="9" height="7" fill="#b02020"/><rect x="633" y="1212" width="9" height="7" fill="#208040"/>
<rect x="431" y="1201" width="9" height="7" fill="#b02020"/><rect x="492" y="1212" width="9" height="7" fill="#b02020"/><rect x="553" y="1223" width="9" height="7" fill="#203090"/><rect x="614" y="1234" width="9" height="7" fill="#208040"/>
<rect x="474" y="1240" width="9" height="7" fill="#203090"/><rect x="540" y="1262" width="9" height="7" fill="#203090"/>
</g>
</g>
<g font-size="13" text-anchor="middle" fill="#222">
<text x="705" y="1029">On-chip</text><text x="705" y="1048">matrix multiplication</text>
<text x="48" y="1114">On-chip</text><text x="48" y="1133">Laser</text>
<text x="195" y="1166">On-chip</text><text x="195" y="1185">comb generation</text>
</g>
<g stroke="#555" stroke-width="0.7" stroke-dasharray="3,3"><line x1="307" y1="965" x2="307" y2="1215"/><line x1="318" y1="965" x2="318" y2="1200"/><line x1="333" y1="965" x2="333" y2="1185"/><line x1="347" y1="965" x2="347" y2="1160"/></g>

<!-- ============ K ============ -->
<text x="822" y="708" class="lbl">K</text>
<rect x="806" y="730" width="751" height="242" rx="10" fill="none" stroke="#4a90c8" stroke-width="1.5"/>
<g font-size="15" text-anchor="middle"><text x="943" y="751">Kernel matrix</text><text x="1076" y="751">input</text><text x="1160" y="751">output</text><text x="1391" y="751">Photonic implementaion</text></g>
<rect x="873" y="770" width="33" height="125" rx="8" fill="none" stroke="#c9b8d8"/>
<rect x="972" y="770" width="33" height="125" rx="8" fill="none" stroke="#c9b8d8"/>
<g fill="none" stroke="#000" stroke-width="1.2">
<path d="M870,770 q-8,0 -8,15 v95 q0,15 8,15"/><path d="M1006,770 q8,0 8,15 v95 q0,15 -8,15"/>
<path d="M1050,770 q-7,0 -7,15 v95 q0,15 7,15"/><path d="M1077,770 q7,0 7,15 v95 q0,15 -7,15"/>
<path d="M1141,770 q-7,0 -7,15 v95 q0,15 7,15"/><path d="M1166,770 q7,0 7,15 v95 q0,15 -7,15"/>
</g>
<g font-size="19">
<text x="878" y="793">a<tspan font-size="11" dy="5">11</tspan></text><text x="914" y="793">a<tspan font-size="11" dy="5">21</tspan></text><text x="951" y="790" font-size="11">···</text><text x="979" y="793">a<tspan font-size="11" dy="5">1j</tspan></text>
<text x="878" y="822">a<tspan font-size="11" dy="5">21</tspan></text><text x="914" y="822">a<tspan font-size="11" dy="5">22</tspan></text><text x="951" y="818" font-size="11">···</text><text x="979" y="822">a<tspan font-size="11" dy="5">2j</tspan></text>
<text x="884" y="852" font-size="11">⋮</text><text x="920" y="852" font-size="11">⋮</text><text x="953" y="852" font-size="11">⋱</text><text x="985" y="852" font-size="11">⋮</text>
<text x="878" y="887">a<tspan font-size="11" dy="5">i1</tspan></text><text x="914" y="887">a<tspan font-size="11" dy="5">i2</tspan></text><text x="951" y="883" font-size="11">···</text><text x="979" y="887">a<tspan font-size="11" dy="5">ij</tspan></text>
<text x="1018" y="776">T</text><text x="1022" y="840">×</text>
<text x="1057" y="793">x<tspan font-size="11" dy="5">1</tspan></text><text x="1057" y="822">x<tspan font-size="11" dy="5">2</tspan></text><text x="1061" y="852" font-size="11">⋮</text><text x="1057" y="887">x<tspan font-size="11" dy="5">i</tspan></text>
<text x="1108" y="840">=</text>
<text x="1147" y="793">Y<tspan font-size="11" dy="5">1</tspan></text><text x="1147" y="822">Y<tspan font-size="11" dy="5">2</tspan></text><text x="1152" y="852" font-size="11">⋮</text><text x="1147" y="887">Y<tspan font-size="11" dy="5">i</tspan></text>
<text x="895" y="952">Y<tspan font-size="11" dy="5">j</tspan><tspan dy="-5"> = x</tspan><tspan font-size="11" dy="5">1</tspan><tspan dy="-5">a</tspan><tspan font-size="11" dy="5">1j</tspan><tspan dy="-5">+ x</tspan><tspan font-size="11" dy="5">2</tspan><tspan dy="-5">a</tspan><tspan font-size="11" dy="5">2j</tspan><tspan dy="-5">+ ... + x</tspan><tspan font-size="11" dy="5">i</tspan><tspan dy="-5">a</tspan><tspan font-size="11" dy="5">ij</tspan></text>
</g>
<g font-size="11" fill="#6a2a9a"><text x="870" y="918">Kernel  1</text><text x="972" y="918">Kernel  j</text><text x="1060" y="918">V</text></g>
<g stroke="#22b0f0" stroke-width="3">
<line x1="1308" y1="779" x2="1478" y2="779"/><line x1="1308" y1="819" x2="1478" y2="819"/><line x1="1308" y1="888" x2="1478" y2="888"/>
<line x1="1357" y1="771" x2="1357" y2="920"/><line x1="1396" y1="771" x2="1396" y2="920"/><line x1="1476" y1="771" x2="1476" y2="920"/>
</g>
<g fill="#22b0f0">
<polygon points="1307,772 1316,779 1307,786"/><polygon points="1307,812 1316,819 1307,826"/><polygon points="1307,881 1316,888 1307,895"/>
<polygon points="1350,922 1357,912 1364,922"/><polygon points="1389,922 1396,912 1403,922"/><polygon points="1469,922 1476,912 1483,922"/>
</g>
<g stroke="#22b0f0" stroke-width="1.5" fill="none">
<path d="M1338,785 h10 q4,0 4,5 v20 M1378,785 h10 q4,0 4,5 v20 M1458,785 h10 q4,0 4,5 v20 M1338,825 h10 q4,0 4,5 v20 M1378,825 h10 q4,0 4,5 v20 M1458,825 h10 q4,0 4,5 v20 M1338,894 h10 q4,0 4,5 v16 M1378,894 h10 q4,0 4,5 v16 M1458,894 h10 q4,0 4,5 v16"/>
</g>
<g fill="#f0a030"><circle cx="1353" cy="786" r="2"/><circle cx="1393" cy="786" r="2"/><circle cx="1473" cy="786" r="2"/><circle cx="1353" cy="826" r="2"/><circle cx="1393" cy="826" r="2"/><circle cx="1473" cy="826" r="2"/><circle cx="1353" cy="895" r="2"/><circle cx="1393" cy="895" r="2"/><circle cx="1473" cy="895" r="2"/></g>
<g font-size="9"><text x="1340" y="800">a<tspan font-size="6" dy="2">11</tspan></text><text x="1380" y="800">a<tspan font-size="6" dy="2">21</tspan></text><text x="1422" y="798">···</text><text x="1460" y="800">a<tspan font-size="6" dy="2">1j</tspan></text>
<text x="1340" y="838">a<tspan font-size="6" dy="2">12</tspan></text><text x="1380" y="838">a<tspan font-size="6" dy="2">22</tspan></text><text x="1422" y="836">···</text><text x="1460" y="838">a<tspan font-size="6" dy="2">2j</tspan></text>
<text x="1342" y="866">⋮</text><text x="1382" y="866">⋮</text><text x="1424" y="866">⋱</text><text x="1462" y="866">⋮</text>
<text x="1340" y="908">a<tspan font-size="6" dy="2">i1</tspan></text><text x="1380" y="908">a<tspan font-size="6" dy="2">i2</tspan></text><text x="1422" y="904">···</text><text x="1460" y="908">a<tspan font-size="6" dy="2">ij</tspan></text></g>
<g font-size="18"><text x="1266" y="788">X<tspan font-size="11" dy="5">1</tspan></text><text x="1266" y="828">X<tspan font-size="11" dy="5">2</tspan></text><text x="1266" y="895">X<tspan font-size="11" dy="5">i</tspan></text>
<text x="1352" y="954">Y<tspan font-size="11" dy="5">1</tspan></text><text x="1391" y="954">Y<tspan font-size="11" dy="5">2</tspan></text><text x="1471" y="954">Y<tspan font-size="11" dy="5">i</tspan></text></g>
<g stroke="#000" stroke-width="0.7"><line x1="1290" y1="776" x2="1304" y2="776" marker-end="url(#ar)"/><line x1="1290" y1="816" x2="1304" y2="816" marker-end="url(#ar)"/><line x1="1290" y1="885" x2="1304" y2="885" marker-end="url(#ar)"/>
<line x1="1357" y1="925" x2="1357" y2="935"/><line x1="1396" y1="925" x2="1396" y2="935"/><line x1="1476" y1="925" x2="1476" y2="935"/></g>
<g font-size="6"><text x="1294" y="772">λ1</text><text x="1294" y="812">λ2</text><text x="1294" y="881">λ3</text></g>
<text x="1396" y="773" font-size="11" fill="#22b0f0">Si<tspan font-size="7" dy="3">3</tspan><tspan dy="-3">N</tspan><tspan font-size="7" dy="3">4</tspan><tspan dy="-3"> waveguides</tspan></text>
<text x="1488" y="792" font-size="13" fill="#f0a030">PCM</text>

<!-- ============ L ============ -->
<text x="822" y="1014" class="lbl">L</text>
<rect x="812" y="1037" width="150" height="149" fill="#fff" stroke="#555" stroke-width="1"/>
<text x="886" y="1150" font-size="105" font-style="italic" text-anchor="middle" fill="#000">4</text>
<rect x="963" y="1038" width="145" height="145" fill="url(#gry)"/>
<rect x="1112" y="1038" width="145" height="145" fill="url(#gry)"/>
<rect x="1261" y="1038" width="145" height="145" fill="url(#gry)"/>
<rect x="1410" y="1038" width="146" height="145" fill="url(#gry)"/>
<g font-size="105" font-style="italic" text-anchor="middle" fill="none" stroke-width="2.5" stroke-dasharray="6,2">
<text x="1037" y="1145" stroke="#fff">4</text><text x="1186" y="1145" stroke="#fff">4</text><text x="1335" y="1145" stroke="#111">4</text><text x="1484" y="1145" stroke="#111">4</text>
<text x="1040" y="1147" stroke="#222" stroke-width="1.2">4</text><text x="1189" y="1147" stroke="#111" stroke-width="1.2">4</text><text x="1338" y="1147" stroke="#fff" stroke-width="1.2">4</text><text x="1487" y="1147" stroke="#fff" stroke-width="1.2">4</text>
</g>
<g font-size="17" text-anchor="middle"><text x="886" y="1202">original</text><text x="1042" y="1202">upper edge</text><text x="1190" y="1202">left edge</text><text x="1338" y="1202">right edge</text><text x="1488" y="1202">bottom edge</text></g>
<g fill="none" stroke="#000" stroke-width="1">
<path d="M1010,1214 h-3 v52 h3 M1070,1214 h3 v52 h-3 M1158,1214 h-3 v52 h3 M1218,1214 h3 v52 h-3 M1308,1214 h-3 v52 h3 M1366,1214 h3 v52 h-3 M1458,1214 h-3 v52 h3 M1516,1214 h3 v52 h-3"/>
</g>
<g font-size="12" text-anchor="middle">
<text x="1021" y="1229">1</text><text x="1039" y="1229">1</text><text x="1057" y="1229">1</text>
<text x="1021" y="1245">0</text><text x="1039" y="1245">0</text><text x="1057" y="1245">0</text>
<text x="1021" y="1261">-1</text><text x="1039" y="1261">-1</text><text x="1057" y="1261">-1</text>
<text x="1169" y="1229">1</text><text x="1187" y="1229">0</text><text x="1205" y="1229">-1</text>
<text x="1169" y="1245">1</text><text x="1187" y="1245">0</text><text x="1205" y="1245">-1</text>
<text x="1169" y="1261">1</text><text x="1187" y="1261">0</text><text x="1205" y="1261">-1</text>
<text x="1318" y="1229">-1</text><text x="1336" y="1229">0</text><text x="1354" y="1229">1</text>
<text x="1318" y="1245">-1</text><text x="1336" y="1245">0</text><text x="1354" y="1245">1</text>
<text x="1318" y="1261">-1</text><text x="1336" y="1261">0</text><text x="1354" y="1261">1</text>
<text x="1468" y="1229">-1</text><text x="1486" y="1229">-1</text><text x="1504" y="1229">-1</text>
<text x="1468" y="1245">0</text><text x="1486" y="1245">0</text><text x="1504" y="1245">0</text>
<text x="1468" y="1261">1</text><text x="1486" y="1261">1</text><text x="1504" y="1261">1</text>
</g>
</svg>
</body></html>
